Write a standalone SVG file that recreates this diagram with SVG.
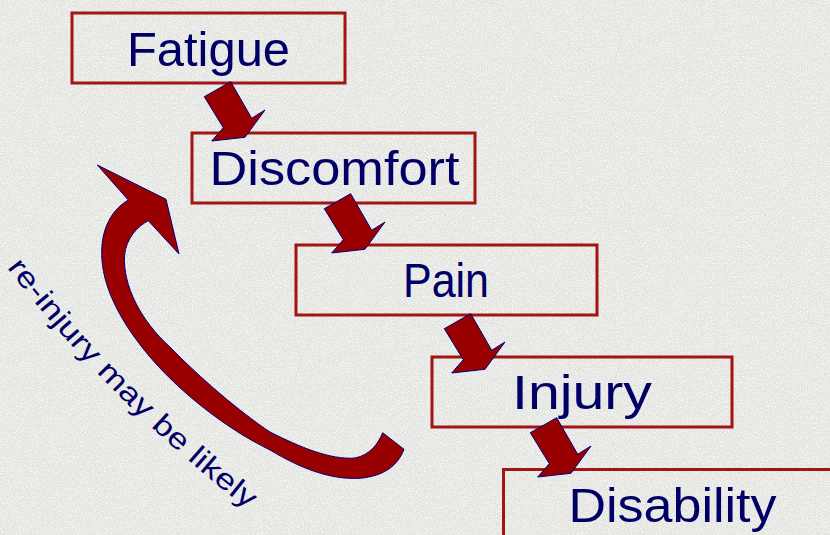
<svg xmlns="http://www.w3.org/2000/svg" xmlns:xlink="http://www.w3.org/1999/xlink" width="830" height="535" viewBox="0 0 830 535">
  <defs>
    <filter id="tex" x="0" y="0" width="100%" height="100%">
      <feTurbulence type="fractalNoise" baseFrequency="0.8" numOctaves="2" seed="7" result="n"/>
      <feColorMatrix in="n" type="matrix" values="0 0 0 0 0.97  0 0 0 0 0.97  0 0 0 0 0.96  2.6 0 0 0 -1.1"/>
    </filter>
    <path id="blockArrow" d="M204.3,96.7 L230.7,81.7 L251.7,118.3 L265,110 L245,137.3 L211.7,141 L223.3,127.7 Z"/>
    <path id="labelPath" d="M14,262 Q118,398 257,505"/>
  </defs>
  <style>
    .box { fill: none; stroke: #a31515; stroke-width: 3; }
    .lbl { font-family: "Liberation Sans", Arial, sans-serif; font-size: 48px; fill: #000066; text-anchor: middle; }
    .arrow { fill: #990000; stroke: #000080; stroke-width: 1; stroke-linejoin: miter; }
    .note { font-family: "Liberation Sans", Arial, sans-serif; font-size: 29px; fill: #000066; }
  </style>

  <rect x="0" y="0" width="830" height="535" fill="#e3e3e0"/>
  <rect x="0" y="0" width="830" height="535" filter="url(#tex)"/>

  <g id="node-fatigue">
    <rect class="box" x="72" y="13" width="273" height="70"/>
    <text class="lbl" x="208.5" y="66" textLength="163" lengthAdjust="spacingAndGlyphs">Fatigue</text>
  </g>
  <g id="node-discomfort">
    <rect class="box" x="192" y="133" width="283" height="70"/>
    <text class="lbl" x="334.5" y="185" textLength="250" lengthAdjust="spacingAndGlyphs">Discomfort</text>
  </g>
  <g id="node-pain">
    <rect class="box" x="296" y="245" width="301" height="70"/>
    <text class="lbl" x="446" y="297" textLength="86" lengthAdjust="spacingAndGlyphs">Pain</text>
  </g>
  <g id="node-injury">
    <rect class="box" x="432" y="357" width="300" height="70"/>
    <text class="lbl" x="582" y="409" textLength="140" lengthAdjust="spacingAndGlyphs">Injury</text>
  </g>
  <g id="node-disability">
    <rect class="box" x="503.5" y="469.5" width="340" height="80"/>
    <text class="lbl" x="672.5" y="522" textLength="208" lengthAdjust="spacingAndGlyphs">Disability</text>
  </g>

  <g id="connectors">
    <use xlink:href="#blockArrow" class="arrow"/>
    <use xlink:href="#blockArrow" class="arrow" transform="translate(120,112)"/>
    <use xlink:href="#blockArrow" class="arrow" transform="translate(240,232)"/>
    <use xlink:href="#blockArrow" class="arrow" transform="translate(326,336)"/>
    <path id="reinjury-arrow" class="arrow" d="M97.3,165 L166,199.3 L179,254 L148.3,220.7 C138,226 126,238 124.5,256 C123,285 140,320 170,347 C200,378 240,412 270,432 C300,447 330,460 355,458 C370,455 378,444 382.7,432.7 L404,449.3 C398,465 385,476 360,478.3 C330,480 300,468 270,450 C225,428 180,392 150,357 C122,324 104,290 102,260 C100,235 108,212 128.3,200 Z"/>
    <text class="note" dy="9"><textPath xlink:href="#labelPath" textLength="340" lengthAdjust="spacingAndGlyphs">re-injury may be likely</textPath></text>
  </g>
</svg>
